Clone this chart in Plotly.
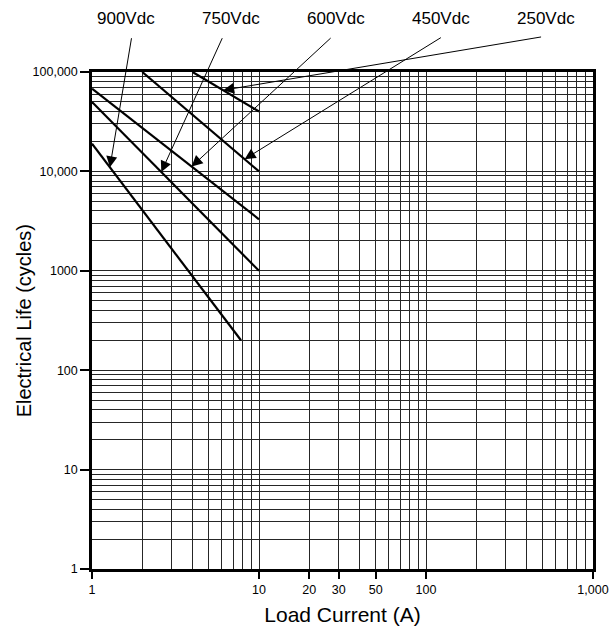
import numpy as np
import plotly.graph_objects as go

# Electrical life vs. load current, one straight (log-log) line per DC voltage
series_names = ["250Vdc", "450Vdc", "600Vdc", "750Vdc", "900Vdc"]
current_250 = [4.0, 10.0]
life_250 = [100000, 40000]
current_450 = [2.0, 10.0]
life_450 = [100000, 10000]
current_600 = [1.0, 10.0]
life_600 = [68000, 3300]
current_750 = [1.0, 10.0]
life_750 = [50000, 1000]
current_900 = [1.0, 7.8]
life_900 = [19000, 200]

# current at which each callout arrow touches its line
arrow_current = [6.1, 8.2, 3.95, 2.6, 1.28]

# callout label placement (x in log10 amps, y in paper units) and arrow tail
label_logx = [2.718, 2.092, 1.462, 0.835, 0.202]
tail_logx = [2.698, 2.098, 1.438, 0.784, 0.238]
label_y = 1.108
tail_logy = 5.355

x_ticks = [1, 10, 20, 30, 50, 100, 1000]
x_ticktext = ["1", "10", "20", "30", "50", "100", "1,000"]
y_ticks = [1, 10, 100, 1000, 10000, 100000]
y_ticktext = ["1", "10", "100", "1000", "10,000", "100,000"]

currents = [current_250, current_450, current_600, current_750, current_900]
lives = [life_250, life_450, life_600, life_750, life_900]

FONT = "Liberation Sans, Arial, sans-serif"

x_minor = [m * 10 ** d for d in range(3) for m in range(2, 10)
           if m * 10 ** d not in x_ticks]
y_minor = [m * 10 ** d for d in range(5) for m in range(2, 10)]

fig = go.Figure()
for name, xs, ys in zip(series_names, currents, lives):
    fig.add_trace(go.Scatter(x=xs, y=ys, mode="lines", name=name,
                             line=dict(color="black", width=2.2),
                             showlegend=False))

for name, xs, ys, xa, lx, tx in zip(series_names, currents, lives,
                                     arrow_current, label_logx, tail_logx):
    ya = np.interp(np.log10(xa), np.log10(xs), np.log10(ys))
    fig.add_annotation(x=np.log10(xa), y=ya, xref="x", yref="y",
                       ax=tx, ay=tail_logy, axref="x", ayref="y",
                       text="", showarrow=True, arrowhead=2, arrowsize=2.2,
                       arrowwidth=1, arrowcolor="black")
    fig.add_annotation(x=lx, y=label_y, xref="x", yref="paper",
                       xanchor="center", yanchor="middle",
                       text=name, showarrow=False,
                       font=dict(family=FONT, size=17, color="black"))

# vertical axis title
fig.add_annotation(x=-0.136, y=0.5, xref="paper", yref="paper",
                   xanchor="center", yanchor="middle", textangle=-90,
                   text="Electrical Life (cycles)", showarrow=False,
                   font=dict(family=FONT, size=20, color="black"))

grid_col = "#262626"
fig.update_xaxes(type="log", range=[0, 3], automargin=False,
                 tickmode="array", tickvals=x_ticks, ticktext=x_ticktext,
                 ticks="outside", ticklen=7, tickwidth=1.5, tickcolor="black",
                 tickfont=dict(family=FONT, size=12.5, color="black"),
                 showgrid=True, gridcolor=grid_col, gridwidth=1.2,
                 minor=dict(tickmode="array", tickvals=x_minor, showgrid=True,
                            gridcolor=grid_col, gridwidth=1.2, ticks=""),
                 showline=True, linecolor="black", linewidth=2.5, mirror=True,
                 zeroline=False,
                 title=dict(text="Load Current (A)", standoff=12,
                            font=dict(family=FONT, size=21, color="black")))
fig.update_yaxes(type="log", range=[0, 5], automargin=False,
                 tickmode="array", tickvals=y_ticks, ticktext=y_ticktext,
                 ticks="outside", ticklen=9, tickwidth=1.5, tickcolor="black",
                 tickfont=dict(family=FONT, size=12.5, color="black"),
                 showgrid=True, gridcolor=grid_col, gridwidth=1.2,
                 minor=dict(tickmode="array", tickvals=y_minor, showgrid=True,
                            gridcolor=grid_col, gridwidth=1.2, ticks=""),
                 showline=True, linecolor="black", linewidth=2.5, mirror=True,
                 zeroline=False)

fig.update_layout(width=616, height=640,
                  margin=dict(l=92, r=23, t=72, b=71),
                  paper_bgcolor="white", plot_bgcolor="white")

fig.write_html("out.html")
